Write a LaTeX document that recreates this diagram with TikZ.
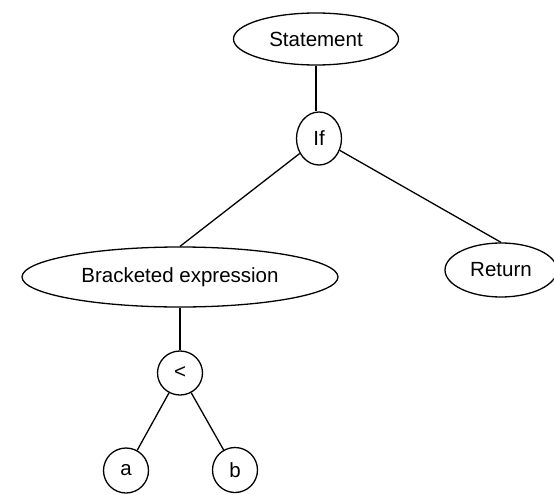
\documentclass[tikz,border=0pt]{standalone}
\usepackage{fontspec}
\setmainfont{Liberation Sans}
\usetikzlibrary{shapes.geometric}
\begin{document}
\begin{tikzpicture}[x=1pt,y=-1pt,
  treenode/.style={draw, ellipse, line width=1.3pt, inner sep=0pt,
    font=\fontsize{20.5}{24}\selectfont},
  branch/.style={line width=1.3pt}]
\useasboundingbox (0,0) rectangle (554,495);

% syntax tree nodes
\node[treenode, minimum width=165pt, minimum height=52pt] (stmt) at (316,39) {Statement};
\node[treenode, minimum width=45pt, minimum height=53pt] (if) at (319,138.5) {If};
\node[treenode, minimum width=316pt, minimum height=60pt] (brk) at (180,277) {Bracketed expression};
\node[treenode, minimum width=112pt, minimum height=54pt] (ret) at (501,270) {Return};
\node[treenode, minimum width=45pt, minimum height=44pt] (lt) at (180,373) {<};
\node[treenode, minimum width=45pt, minimum height=45pt] (a) at (126,470.5) {a};
\node[treenode, minimum width=45pt, minimum height=45pt] (b) at (235,470) {b};

% branches
\draw[branch] (stmt.south) -- (stmt.south |- if.north);
\draw[branch] (if) -- (brk.north);
\draw[branch] (if) -- (ret.north);
\draw[branch] (brk) -- (lt);
\draw[branch] (lt) -- (a);
\draw[branch] (lt) -- (b);
\end{tikzpicture}
\end{document}
